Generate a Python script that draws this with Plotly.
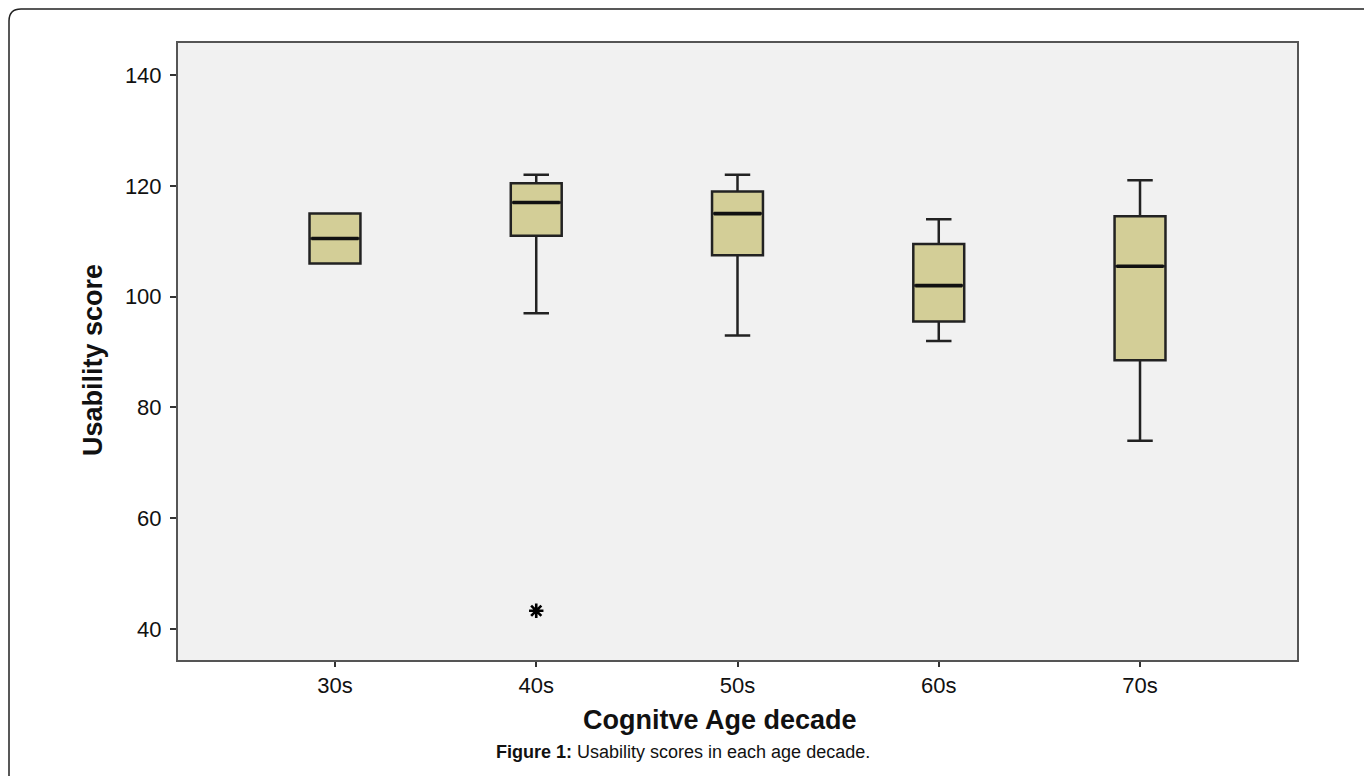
import plotly.graph_objects as go

categories = ["30s", "40s", "50s", "60s", "70s"]
lower_whisker = [106, 97, 93, 92, 74]
q1 = [106, 111, 107.5, 95.5, 88.5]
median = [110.5, 117, 115, 102, 105.5]
q3 = [115, 120.5, 119, 109.5, 114.5]
upper_whisker = [115, 122, 122, 114, 121]
outlier_cat = ["40s"]
outlier_val = [43.3]
y_ticks = [40, 60, 80, 100, 120, 140]

pos = list(range(len(categories)))
box_w = 0.253
fill = "#d3ce97"
edge = "#222222"

W, H = 1364, 768
L, R, T, B = 170, 1289, 35, 652
pw, ph = R - L, B - T
def px(x): return (x - L) / pw
def py(y): return (B - y) / ph

fig = go.Figure()
fig.add_trace(go.Box(
    x=pos, q1=q1, median=median, q3=q3,
    lowerfence=lower_whisker, upperfence=upper_whisker,
    width=box_w, whiskerwidth=0.5,
    fillcolor=fill, line=dict(color=edge, width=2.5),
    boxpoints=False, hoverinfo="skip", showlegend=False,
))

# thicker median lines
mx, my = [], []
for p, m in zip(pos, median):
    mx += [p - box_w / 2 + 0.01, p + box_w / 2 - 0.01, None]
    my += [m, m, None]
fig.add_trace(go.Scatter(x=mx, y=my, mode="lines",
                         line=dict(color="#111", width=3.6),
                         hoverinfo="skip", showlegend=False))

# outlier marker
fig.add_trace(go.Scatter(
    x=[categories.index(c) for c in outlier_cat], y=outlier_val,
    mode="markers",
    marker=dict(symbol="asterisk-open", size=12, color="#000",
                line=dict(color="#000", width=2.6)),
    hoverinfo="skip", showlegend=False))

fig.update_layout(
    width=W, height=H,
    margin=dict(l=L, r=W - R, t=T, b=H - B),
    paper_bgcolor="white", plot_bgcolor="#f1f1f1",
    font=dict(family="Liberation Sans, Arial", color="#111"),
    xaxis=dict(range=[-0.78, 4.78], tickvals=pos, ticktext=categories,
               showgrid=False, zeroline=False, ticks="outside", ticklen=5,
               tickcolor="#333", tickwidth=2, showline=True, linecolor="#555",
               linewidth=2, mirror=True, tickfont=dict(size=22)),
    yaxis=dict(range=[34.4, 145.8], tickvals=y_ticks, showgrid=False,
               zeroline=False, ticks="outside", ticklen=6, tickcolor="#333",
               tickwidth=2, showline=True, linecolor="#555", linewidth=2,
               mirror=True, tickfont=dict(size=22), ticklabelstandoff=4),
    annotations=[
        dict(text="<b>Cognitve Age decade</b>", x=px(712), y=py(712),
             xref="paper", yref="paper", xanchor="center", yanchor="middle",
             showarrow=False, font=dict(size=27)),
        dict(text="<b>Usability score</b>", x=px(85), y=py(352),
             xref="paper", yref="paper", xanchor="center", yanchor="middle",
             showarrow=False, textangle=-90, font=dict(size=27)),
        dict(text="<b>Figure 1:</b> Usability scores in each age decade.",
             x=px(675), y=py(744), xref="paper", yref="paper",
             xanchor="center", yanchor="middle", showarrow=False,
             font=dict(size=18)),
    ],
)

# outer rounded frame
x0, y0, x1, y1 = px(1), py(1), px(1361), py(790)
rx = 12 / pw
ry = 12 / ph
path = (f"M {x0+rx},{y0} L {x1},{y0} L {x1},{y1} L {x0},{y1} L {x0},{y0-ry} "
        f"Q {x0},{y0} {x0+rx},{y0} Z")
fig.add_shape(type="path", path=path, xref="paper", yref="paper",
              line=dict(color="#222", width=1.5), layer="below")

fig.write_html("out.html")
